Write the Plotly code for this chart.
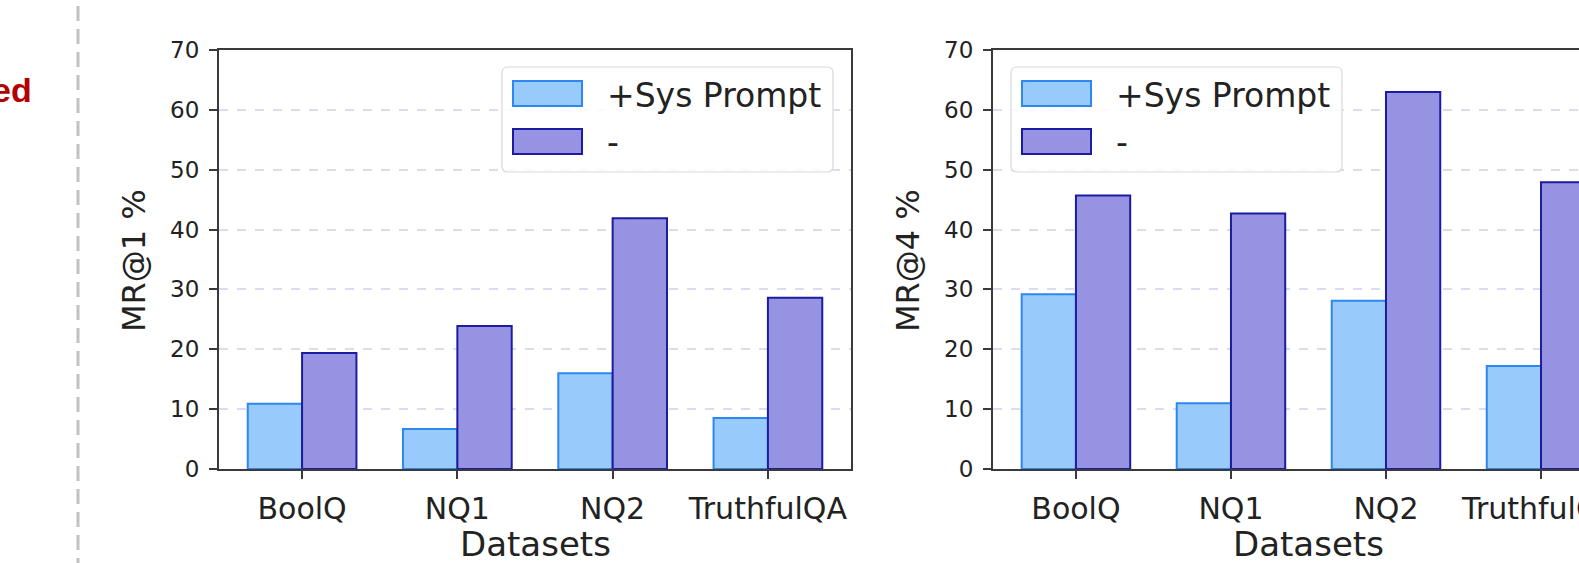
import plotly.graph_objects as go

# ---------------- data ----------------
datasets = ["BoolQ", "NQ1", "NQ2", "TruthfulQA"]
series_names = ["+Sys Prompt", "-"]
mr1_sys = [10.9, 6.7, 16.0, 8.5]
mr1_none = [19.4, 23.9, 41.9, 28.6]
mr4_sys = [29.2, 11.0, 28.1, 17.2]
mr4_none = [45.7, 42.7, 63.0, 47.9]
y_ticks = [0, 10, 20, 30, 40, 50, 60, 70]
y_titles = ["MR@1 %", "MR@4 %"]
x_title = "Datasets"
side_text = "ed"

# ---------------- style ----------------
W, H = 1579, 563
M_T, M_B = 50, 94
PLOT_H = H - M_T - M_B
FONT = "DejaVu Sans"
BLUE_FILL, BLUE_EDGE = "rgb(153,202,252)", "rgb(45,135,240)"
PURP_FILL, PURP_EDGE = "rgb(150,148,226)", "rgb(28,28,160)"
SPINE = "#3a3a3a"
GRID = "rgb(220,220,238)"


def px(x):
    return x / W


def py(y):
    return (H - M_B - y) / PLOT_H


def rounded_rect_path(x0, y0, x1, y1, r):
    # pixel coordinates (y downwards) -> paper path with rounded corners
    pts = [
        f"M {px(x0 + r)},{py(y0)}",
        f"L {px(x1 - r)},{py(y0)}",
        f"Q {px(x1)},{py(y0)} {px(x1)},{py(y0 + r)}",
        f"L {px(x1)},{py(y1 - r)}",
        f"Q {px(x1)},{py(y1)} {px(x1 - r)},{py(y1)}",
        f"L {px(x0 + r)},{py(y1)}",
        f"Q {px(x0)},{py(y1)} {px(x0)},{py(y1 - r)}",
        f"L {px(x0)},{py(y0 + r)}",
        f"Q {px(x0)},{py(y0)} {px(x0 + r)},{py(y0)}",
        "Z",
    ]
    return " ".join(pts)


fig = go.Figure()

for k, (sys_vals, none_vals) in enumerate([(mr1_sys, mr1_none), (mr4_sys, mr4_none)]):
    xa = "x" if k == 0 else "x2"
    ya = "y" if k == 0 else "y2"
    fig.add_trace(go.Bar(x=datasets, y=sys_vals, name=series_names[0], xaxis=xa, yaxis=ya,
                         marker=dict(color=BLUE_FILL, line=dict(color=BLUE_EDGE, width=2)),
                         showlegend=False))
    fig.add_trace(go.Bar(x=datasets, y=none_vals, name=series_names[1], xaxis=xa, yaxis=ya,
                         marker=dict(color=PURP_FILL, line=dict(color=PURP_EDGE, width=2)),
                         showlegend=False))

xaxis_common = dict(
    type="category", showline=True, mirror=True, linecolor=SPINE, linewidth=2,
    ticks="outside", ticklen=8, tickwidth=2, tickcolor=SPINE,
    tickfont=dict(family=FONT, size=30, color="#222"), showgrid=False,
    zeroline=False, ticklabelstandoff=4, automargin=False,
)
yaxis_common = dict(
    range=[0, 70], tickvals=y_ticks, showline=True, linecolor=SPINE, linewidth=2,
    ticks="outside", ticklen=8, tickwidth=2, tickcolor=SPINE,
    tickfont=dict(family=FONT, size=23, color="#222"),
    showgrid=True, gridcolor=GRID, griddash="dash", gridwidth=1.5,
    zeroline=False, ticklabelstandoff=5, automargin=False,
)

fig.update_layout(
    width=W, height=H, autosize=False,
    margin=dict(l=0, r=0, t=M_T, b=M_B, pad=0, autoexpand=False),
    paper_bgcolor="white", plot_bgcolor="white",
    barmode="group", bargap=0.3, bargroupgap=0,
    showlegend=False,
    xaxis=dict(domain=[px(219), px(851)], range=[-0.535, 3.535], anchor="y", **xaxis_common),
    yaxis=dict(domain=[0, 1], anchor="x", mirror=True, **yaxis_common),
    xaxis2=dict(domain=[px(993), 1.0], range=[-0.535, 3.245], anchor="y2", **xaxis_common),
    yaxis2=dict(domain=[0, 1], anchor="x2", mirror=False, **yaxis_common),
)

shapes = []
annotations = []

# vertical dashed separator
shapes.append(dict(type="line", xref="paper", yref="paper", x0=px(78), x1=px(78),
                   y0=py(H + 10), y1=py(-10), line=dict(color="#c2c2c2", width=3, dash="15px,8px")))
annotations.append(dict(text="<b>" + side_text + "</b>", xref="paper", yref="paper",
                        x=px(34), y=py(90), xanchor="right", yanchor="middle", showarrow=False,
                        font=dict(family="Liberation Sans", size=34, color="#b30000")))

plot_lefts = [219, 993]
plot_centers = [535, 1308]
for k in range(2):
    # axis titles
    annotations.append(dict(text=y_titles[k], xref="paper", yref="paper",
                            x=px(plot_lefts[k] - 85), y=py(261), textangle=-90,
                            xanchor="center", yanchor="middle", showarrow=False,
                            font=dict(family=FONT, size=32, color="#222")))
    annotations.append(dict(text=x_title, xref="paper", yref="paper",
                            x=px(plot_centers[k]), y=py(544), xanchor="center", yanchor="middle",
                            showarrow=False, font=dict(family=FONT, size=34, color="#222")))

# legends (drawn manually to get matplotlib-sized patches)
legend_lefts = [502, 1011]
for lx in legend_lefts:
    shapes.append(dict(type="path", xref="paper", yref="paper",
                       path=rounded_rect_path(lx, 67, lx + 331, 172, 6),
                       line=dict(color="#d9d9d9", width=1.2),
                       fillcolor="rgba(255,255,255,0.85)", layer="above"))
    for j, (fill, edge, top) in enumerate([(BLUE_FILL, BLUE_EDGE, 81), (PURP_FILL, PURP_EDGE, 129)]):
        shapes.append(dict(type="rect", xref="paper", yref="paper", x0=px(lx + 11), x1=px(lx + 80),
                           y0=py(top + 25), y1=py(top), fillcolor=fill,
                           line=dict(color=edge, width=2), layer="above"))
        annotations.append(dict(text=series_names[j], xref="paper", yref="paper",
                                x=px(lx + 103), y=py(top + 14), xanchor="left", yanchor="middle",
                                showarrow=False, font=dict(family=FONT, size=33, color="#222")))

fig.update_layout(shapes=shapes, annotations=annotations)
fig.write_html(
    "out.html",
    config={"displayModeBar": False},
    post_script="document.body.style.margin='0';document.body.style.overflow='hidden';",
)
